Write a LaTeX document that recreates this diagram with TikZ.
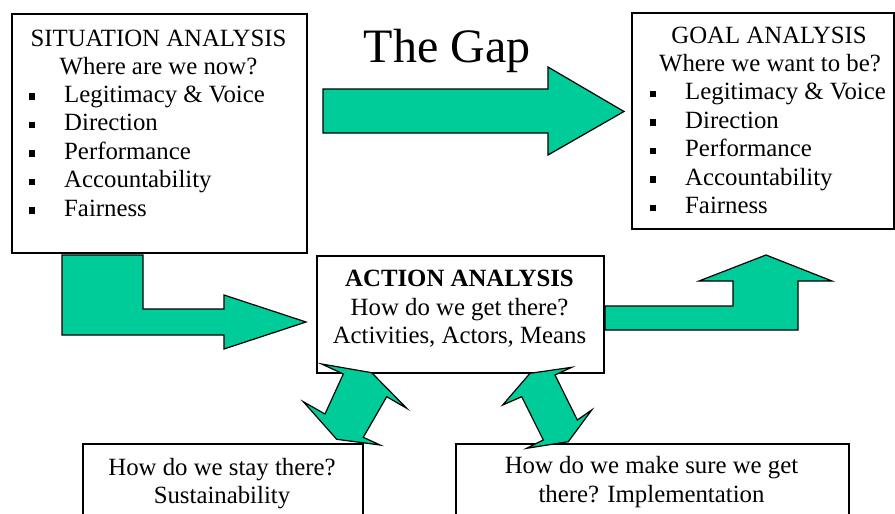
\documentclass[tikz,border=0pt]{standalone}
\usepackage{fontspec}
\setmainfont{Liberation Serif}
\definecolor{gapgreen}{RGB}{0,204,153}
\newcommand\sqitem{\llap{\vrule height 9pt depth -2.5pt width 6.5pt\hspace{29pt}}}
\tikzset{
	box/.style={draw, line width=1.6pt, fill=white, anchor=north west, inner sep=0pt},
	txt/.style={anchor=base, inner sep=0pt, font=\fontsize{24.8}{28.5}\selectfont},
	item/.style={txt, anchor=base west},
	blockarrow/.style={draw, fill=gapgreen, line width=1.2pt, line join=miter}
}
\begin{document}
\begin{tikzpicture}[x=1pt,y=-1pt]
	\useasboundingbox (0,0) rectangle (895,514);
	\clip (0,0) rectangle (895,514);

	% the five boxes
	\node[box, minimum width=295pt, minimum height=239pt] (sit) at (11,13) {};
	\node[box, minimum width=262pt, minimum height=216pt] (goal) at (631,12) {};
	\node[box, minimum width=287pt, minimum height=117pt] (act) at (316,255) {};
	\node[box, minimum width=280pt, minimum height=100pt] (stay) at (82,443) {};
	\node[box, minimum width=393pt, minimum height=100pt] (sure) at (455,443) {};

	% situation
	\node[txt] (sit-head) at (158.5,46) {SITUATION ANALYSIS};
	\node[txt] (sit-sub) at (158.5,74) {Where are we now?};
	\foreach \itemtext [count=\k] in {Legitimacy \& Voice,Direction,Performance,Accountability,Fairness}
		\node[item] (sit-\k) at (64,{102+28.5*(\k-1)}) {\sqitem\itemtext};

	% goal
	\node[txt] (goal-head) at (769,43.5) {GOAL ANALYSIS};
	\node[txt] (goal-sub) at (770,71) {Where we want to be?};
	\foreach \itemtext [count=\k] in {Legitimacy \& Voice,Direction,Performance,Accountability,Fairness}
		\node[item] (goal-\k) at (685,{99.5+28.5*(\k-1)}) {\sqitem\itemtext};

	% action
	\node[txt] (act-head) at (459.5,286) {\textbf{ACTION ANALYSIS}};
	\node[txt] (act-sub) at (459.5,315) {How do we get there?};
	\node[txt] (act-means) at (459.5,343) {Activities, Actors, Means};

	% the two questions below
	\node[txt] (stay-1) at (222,475) {How do we stay there?};
	\node[txt] (stay-2) at (222,503) {Sustainability};
	\node[txt] (sure-1) at (651.5,473.5) {How do we make sure we get};
	\node[txt] (sure-2) at (651.5,502) {there? Implementation};

	\node[anchor=base, inner sep=0pt, font=\fontsize{48}{52}\selectfont] (gap) at (447,62) {The Gap};

	% block arrows
	\draw[blockarrow] (323,89) -- (548,89) -- (548,67) -- (624,111.5) -- (548,155) -- (548,133) -- (323,133) -- cycle;
	\draw[blockarrow] (62,255) -- (143,255) -- (143,309) -- (224,309) -- (224,295) -- (306,322) -- (224,349) -- (224,335) -- (62,335) -- cycle;
	\draw[blockarrow] (605,306) -- (733,306) -- (733,281) -- (699,281) -- (766,255) -- (832,281) -- (798,281) -- (798,330) -- (605,330) -- cycle;
	\draw[blockarrow] (321.7,364) -- (371.7,372.7) -- (406.7,408.3) -- (386.7,396.7) -- (363.3,437.3) -- (380,445) -- (336.7,439.3) -- (303.3,401.7) -- (325,414) -- (343.3,374) -- cycle;
	\draw[blockarrow] (571.7,367.3) -- (530,373.3) -- (502.7,405) -- (521.7,396.7) -- (543.3,440) -- (526.7,448.3) -- (568.3,441.7) -- (591.7,410) -- (577.3,420) -- (555,375) -- cycle;
\end{tikzpicture}
\end{document}
